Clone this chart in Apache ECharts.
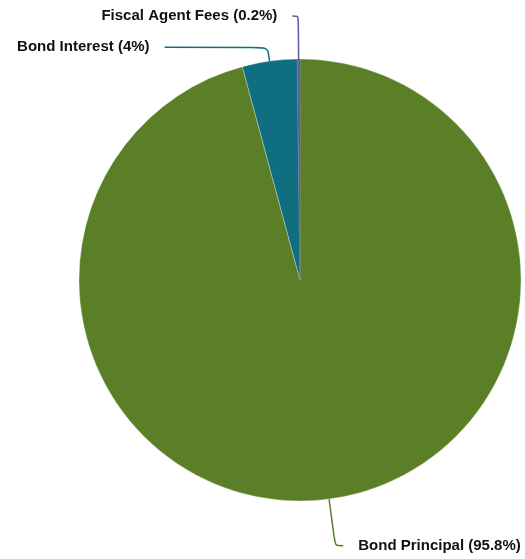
<!DOCTYPE html>
<html>
<head>
<meta charset="utf-8">
<script src="https://cdn.jsdelivr.net/npm/echarts@6/dist/echarts.min.js"></script>
<style>
html,body{margin:0;padding:0;background:#fff;}
#chart{width:525px;height:559px;}
</style>
</head>
<body>
<div id="chart"></div>
<script>
const categories = ['Bond Principal', 'Bond Interest', 'Fiscal Agent Fees'];
const values = [95.8, 4, 0.2];
const colors = ['#5a7f26', '#0f6e7f', '#5e5f9f'];
const borders = ['rgba(255,255,255,0.6)', 'rgba(255,255,255,0.6)', '#5e5f9f'];
const lineLen = [47, 14, 43];
const lineLen2 = [8, 103, 6];

const chart = echarts.init(document.getElementById('chart'), null, {renderer: 'canvas'});
const data = categories.map((name, i) => ({
  name: name,
  value: values[i],
  itemStyle: {color: colors[i], borderColor: borders[i]},
  labelLine: {length: lineLen[i], length2: lineLen2[i]}
}));

chart.setOption({
  animation: false,
  backgroundColor: '#ffffff',
  series: [{
    type: 'pie',
    center: [300, 280],
    radius: 221,
    startAngle: 90,
    clockwise: true,
    avoidLabelOverlap: false,
    itemStyle: {borderWidth: 0.5},
    label: {
      show: true,
      position: 'outside',
      formatter: p => p.name + ' (' + p.value + '%)',
      fontFamily: '"Liberation Sans", Arial, sans-serif',
      fontWeight: 'bold',
      fontSize: 15,
      color: '#111',
      distanceToLabelLine: 15
    },
    labelLine: {show: true, smooth: 0.25, lineStyle: {width: 1.5}},
    data: data
  }]
});
</script>
</body>
</html>
